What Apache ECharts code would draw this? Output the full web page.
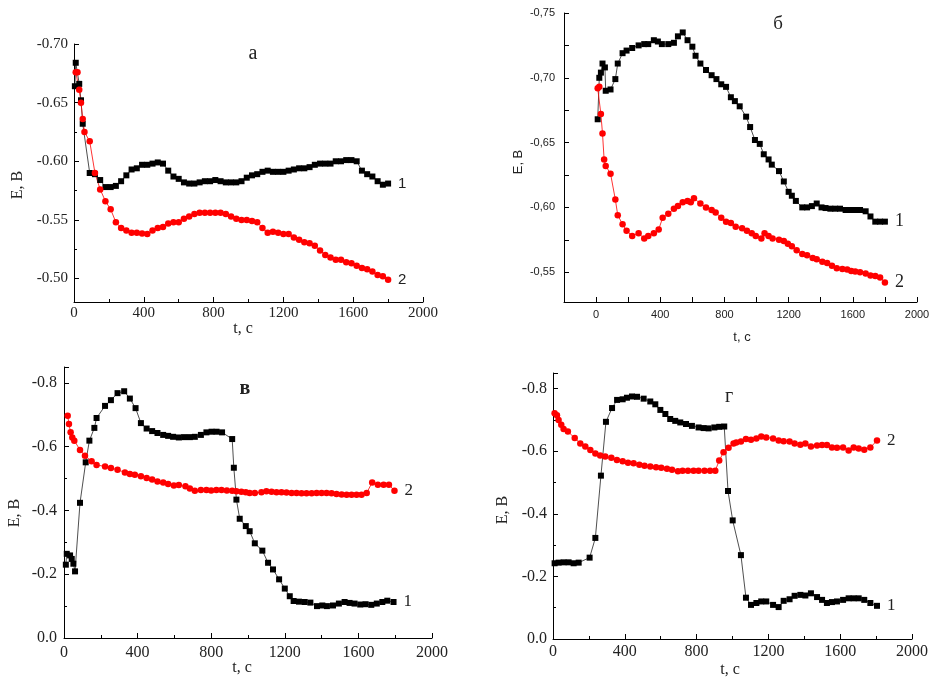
<!DOCTYPE html>
<html>
<head>
<meta charset="utf-8">
<script src="https://cdn.jsdelivr.net/npm/echarts@6/dist/echarts.min.js"></script>
<style>
html, body { margin: 0; background: #fff; }
#chart { width: 930px; height: 678px; }
</style>
</head>
<body>
<div id="chart"></div>
<script>
// panel а
const aT1 = [5, 10, 30, 40, 50, 90, 120, 150, 180, 210, 240, 270, 300, 330, 360, 390, 420, 450, 480, 510, 540, 570, 600, 630, 660, 690, 720, 750, 780, 810, 840, 870, 900, 930, 960, 990, 1020, 1050, 1080, 1110, 1140, 1170, 1200, 1230, 1260, 1290, 1320, 1350, 1380, 1410, 1440, 1470, 1500, 1530, 1560, 1590, 1620, 1650, 1680, 1710, 1740, 1770, 1800];
const aE1 = [-0.664, -0.684, -0.666, -0.652, -0.632, -0.590, -0.589, -0.584, -0.578, -0.578, -0.579, -0.583, -0.588, -0.593, -0.594, -0.597, -0.597, -0.598, -0.599, -0.598, -0.592, -0.587, -0.585, -0.582, -0.581, -0.581, -0.582, -0.583, -0.583, -0.584, -0.583, -0.582, -0.582, -0.582, -0.583, -0.586, -0.588, -0.589, -0.591, -0.592, -0.591, -0.591, -0.591, -0.592, -0.593, -0.594, -0.594, -0.595, -0.597, -0.598, -0.598, -0.598, -0.600, -0.600, -0.601, -0.601, -0.600, -0.592, -0.589, -0.587, -0.583, -0.580, -0.581];
const aT2 = [10, 20, 30, 40, 50, 60, 90, 120, 150, 180, 210, 240, 270, 300, 330, 360, 390, 420, 450, 480, 510, 540, 570, 600, 630, 660, 690, 720, 750, 780, 810, 840, 870, 900, 930, 960, 990, 1020, 1050, 1080, 1110, 1140, 1170, 1200, 1230, 1260, 1290, 1320, 1350, 1380, 1410, 1440, 1470, 1500, 1530, 1560, 1590, 1620, 1650, 1680, 1710, 1740, 1770, 1800];
const aE2 = [-0.676, -0.676, -0.661, -0.650, -0.636, -0.625, -0.617, -0.590, -0.576, -0.566, -0.559, -0.548, -0.543, -0.541, -0.539, -0.539, -0.5385, -0.538, -0.541, -0.543, -0.544, -0.547, -0.548, -0.548, -0.551, -0.553, -0.555, -0.556, -0.556, -0.556, -0.556, -0.556, -0.555, -0.553, -0.551, -0.550, -0.550, -0.549, -0.548, -0.543, -0.539, -0.540, -0.539, -0.538, -0.538, -0.535, -0.533, -0.531, -0.530, -0.528, -0.524, -0.520, -0.518, -0.516, -0.516, -0.514, -0.513, -0.511, -0.509, -0.508, -0.506, -0.503, -0.502, -0.499];

// panel б
const bT1 = [10, 20, 30, 40, 55, 60, 90, 120, 135, 165, 190, 225, 265, 300, 325, 360, 385, 410, 450, 485, 510, 540, 570, 600, 620, 650, 685, 720, 750, 780, 810, 840, 865, 895, 935, 960, 990, 1020, 1045, 1075, 1095, 1140, 1170, 1200, 1220, 1245, 1285, 1315, 1345, 1375, 1405, 1430, 1460, 1490, 1520, 1555, 1585, 1615, 1645, 1680, 1710, 1740, 1770, 1800];
const bE1 = [-0.668, -0.700, -0.704, -0.711, -0.708, -0.690, -0.691, -0.699, -0.711, -0.719, -0.721, -0.723, -0.725, -0.726, -0.726, -0.729, -0.728, -0.726, -0.726, -0.727, -0.732, -0.735, -0.729, -0.724, -0.717, -0.711, -0.706, -0.702, -0.699, -0.695, -0.693, -0.685, -0.682, -0.678, -0.670, -0.662, -0.652, -0.649, -0.641, -0.637, -0.633, -0.628, -0.620, -0.612, -0.609, -0.605, -0.600, -0.600, -0.601, -0.603, -0.600, -0.5995, -0.599, -0.599, -0.599, -0.598, -0.598, -0.598, -0.598, -0.597, -0.593, -0.589, -0.589, -0.589];
const bT2 = [10, 20, 30, 40, 50, 60, 90, 120, 135, 165, 190, 225, 265, 300, 325, 360, 390, 415, 450, 485, 510, 540, 570, 590, 610, 650, 685, 720, 745, 780, 810, 840, 870, 910, 940, 970, 995, 1030, 1050, 1075, 1100, 1140, 1170, 1195, 1220, 1250, 1285, 1315, 1350, 1375, 1410, 1440, 1470, 1500, 1535, 1565, 1590, 1615, 1645, 1680, 1710, 1740, 1770, 1800];
const bE2 = [-0.692, -0.693, -0.672, -0.657, -0.637, -0.632, -0.626, -0.606, -0.594, -0.587, -0.582, -0.578, -0.580, -0.576, -0.578, -0.580, -0.583, -0.592, -0.595, -0.599, -0.601, -0.604, -0.605, -0.604, -0.607, -0.603, -0.600, -0.598, -0.596, -0.592, -0.589, -0.588, -0.585, -0.584, -0.582, -0.580, -0.578, -0.576, -0.580, -0.578, -0.576, -0.575, -0.574, -0.572, -0.570, -0.567, -0.564, -0.563, -0.561, -0.560, -0.558, -0.557, -0.555, -0.553, -0.5525, -0.552, -0.551, -0.5505, -0.550, -0.549, -0.5475, -0.547, -0.546, -0.542];

// panel в
const cT1 = [10, 15, 33, 42, 51, 60, 87, 118, 138, 165, 177, 223, 255, 291, 327, 358, 389, 418, 449, 479, 508, 539, 566, 593, 624, 653, 684, 711, 744, 774, 802, 829, 859, 914, 923, 937, 955, 988, 1009, 1037, 1078, 1109, 1136, 1169, 1200, 1227, 1248, 1277, 1308, 1339, 1375, 1404, 1429, 1462, 1494, 1525, 1552, 1579, 1610, 1639, 1670, 1700, 1730, 1757, 1791];
const cE1 = [-0.230, -0.264, -0.259, -0.248, -0.233, -0.209, -0.424, -0.551, -0.619, -0.659, -0.690, -0.728, -0.746, -0.768, -0.774, -0.751, -0.721, -0.674, -0.657, -0.649, -0.643, -0.637, -0.634, -0.631, -0.629, -0.630, -0.630, -0.631, -0.637, -0.645, -0.647, -0.647, -0.645, -0.624, -0.534, -0.434, -0.374, -0.351, -0.335, -0.297, -0.274, -0.236, -0.215, -0.184, -0.155, -0.131, -0.116, -0.114, -0.113, -0.111, -0.100, -0.102, -0.100, -0.102, -0.108, -0.113, -0.110, -0.108, -0.105, -0.106, -0.104, -0.108, -0.113, -0.117, -0.113];
const cT2 = [20, 27, 36, 45, 56, 87, 114, 150, 177, 223, 255, 291, 331, 358, 385, 418, 449, 479, 508, 539, 566, 597, 624, 660, 684, 711, 744, 774, 800, 828, 856, 885, 914, 937, 964, 988, 1009, 1037, 1073, 1100, 1128, 1155, 1182, 1209, 1237, 1264, 1291, 1318, 1346, 1373, 1400, 1427, 1454, 1481, 1509, 1536, 1563, 1590, 1617, 1645, 1675, 1706, 1737, 1766, 1796];
const cE2 = [-0.697, -0.671, -0.645, -0.629, -0.619, -0.590, -0.572, -0.554, -0.543, -0.538, -0.533, -0.528, -0.519, -0.514, -0.512, -0.507, -0.502, -0.497, -0.491, -0.488, -0.483, -0.478, -0.480, -0.476, -0.469, -0.462, -0.464, -0.464, -0.463, -0.464, -0.464, -0.463, -0.462, -0.460, -0.459, -0.457, -0.455, -0.455, -0.457, -0.460, -0.459, -0.457, -0.457, -0.456, -0.455, -0.455, -0.454, -0.454, -0.454, -0.455, -0.455, -0.455, -0.454, -0.452, -0.450, -0.449, -0.449, -0.449, -0.449, -0.455, -0.488, -0.481, -0.481, -0.481, -0.462];

// panel г
const dT1 = [9, 31, 59, 87, 115, 143, 204, 236, 267, 295, 329, 357, 388, 412, 440, 468, 505, 542, 570, 598, 626, 653, 681, 709, 741, 774, 811, 839, 867, 899, 926, 954, 975, 1001, 1047, 1075, 1103, 1133, 1160, 1188, 1226, 1257, 1285, 1318, 1346, 1378, 1406, 1437, 1471, 1499, 1526, 1554, 1582, 1616, 1647, 1675, 1703, 1734, 1768, 1805];
const dE1 = [-0.242, -0.244, -0.245, -0.245, -0.242, -0.244, -0.260, -0.323, -0.522, -0.694, -0.738, -0.764, -0.766, -0.771, -0.775, -0.774, -0.768, -0.759, -0.750, -0.732, -0.719, -0.703, -0.697, -0.692, -0.687, -0.681, -0.676, -0.674, -0.673, -0.676, -0.678, -0.679, -0.473, -0.379, -0.268, -0.132, -0.109, -0.115, -0.120, -0.120, -0.109, -0.102, -0.122, -0.127, -0.138, -0.141, -0.139, -0.146, -0.134, -0.125, -0.115, -0.118, -0.120, -0.125, -0.130, -0.130, -0.130, -0.125, -0.115, -0.106];
const dT2 = [9, 22, 31, 46, 59, 83, 121, 152, 180, 208, 236, 263, 291, 325, 356, 388, 418, 449, 481, 510, 542, 574, 603, 635, 663, 696, 722, 752, 783, 811, 844, 875, 904, 926, 950, 978, 1006, 1021, 1047, 1075, 1103, 1133, 1160, 1188, 1226, 1257, 1285, 1318, 1346, 1378, 1406, 1437, 1471, 1499, 1526, 1554, 1582, 1616, 1647, 1675, 1703, 1734, 1768, 1805];
const dE2 = [-0.721, -0.715, -0.700, -0.685, -0.671, -0.663, -0.642, -0.625, -0.615, -0.604, -0.593, -0.586, -0.583, -0.579, -0.572, -0.568, -0.563, -0.562, -0.557, -0.554, -0.551, -0.549, -0.547, -0.544, -0.541, -0.536, -0.538, -0.538, -0.538, -0.538, -0.538, -0.538, -0.538, -0.570, -0.597, -0.611, -0.625, -0.628, -0.631, -0.639, -0.637, -0.641, -0.647, -0.644, -0.641, -0.634, -0.632, -0.631, -0.625, -0.621, -0.625, -0.615, -0.618, -0.620, -0.620, -0.612, -0.611, -0.612, -0.602, -0.612, -0.609, -0.605, -0.612, -0.634];

const serif = '"Liberation Serif", "Times New Roman", serif';
const sans = '"Liberation Sans", Arial, sans-serif';

function pts(t, e) {
    return t.map((v, i) => [v, e[i]]);
}

function axisBase(font, size, margin) {
    return {
        axisLine: { show: true, onZero: false, lineStyle: { color: '#000', width: 1 } },
        axisTick: { show: true, inside: true, length: 5, lineStyle: { color: '#000' } },
        minorTick: { show: true, splitNumber: 2, length: 3, lineStyle: { color: '#000' } },
        splitLine: { show: false },
        axisLabel: { fontFamily: font, fontSize: size, color: '#222', margin: margin }
    };
}

function blackSeries(idx, data, font, size) {
    return {
        type: 'line', xAxisIndex: idx, yAxisIndex: idx, data: data,
        symbol: 'rect', symbolSize: 6,
        itemStyle: { color: '#000' },
        lineStyle: { color: '#222', width: 0.8 },
        endLabel: { show: true, formatter: '1', fontFamily: font, fontSize: size, color: '#222', distance: 10 }
    };
}

function redSeries(idx, data, font, size) {
    return {
        type: 'line', xAxisIndex: idx, yAxisIndex: idx, data: data,
        symbol: 'circle', symbolSize: 6.5,
        itemStyle: { color: '#f00' },
        lineStyle: { color: '#f00', width: 0.8 },
        endLabel: { show: true, formatter: '2', fontFamily: font, fontSize: size, color: '#222', distance: 10 }
    };
}

function text(str, x, y, font, rotate, weight) {
    return {
        type: 'text', x: x, y: y, rotation: rotate ? Math.PI / 2 : 0,
        style: { text: str, font: (weight || '') + ' ' + font, fill: '#222', align: 'center', verticalAlign: 'middle' }
    };
}

const chart = echarts.init(document.getElementById('chart'));

const plain = v => String(v);

const x0 = Object.assign(axisBase(serif, 15, 4), { type: 'value', gridIndex: 0, min: 0, max: 2000, interval: 400 });
x0.axisLabel.formatter = plain;
const y0 = Object.assign(axisBase(serif, 15, 6), { type: 'value', gridIndex: 0, min: -0.70, max: -0.48, interval: 0.05, inverse: true });
y0.axisLabel.formatter = v => v.toFixed(2);
y0.axisLabel.showMaxLabel = false;

const x1 = Object.assign(axisBase(sans, 11, 7), { type: 'value', gridIndex: 1, min: -200, max: 2000, interval: 200 });
x1.minorTick.show = false;
x1.axisLabel.formatter = v => (v >= 0 && v % 400 === 0) ? String(v) : '';
const y1 = Object.assign(axisBase(sans, 11, 9), { type: 'value', gridIndex: 1, min: -0.75, max: -0.527, interval: 0.05, inverse: true });
y1.minorTick.length = 5;
y1.axisLabel.formatter = v => v.toFixed(2).replace('.', ',');
y1.axisLabel.showMaxLabel = false;

const x2 = Object.assign(axisBase(serif, 16, 7), { type: 'value', gridIndex: 2, min: 0, max: 2000, interval: 400 });
x2.axisLabel.formatter = plain;
const y2 = Object.assign(axisBase(serif, 16, 7), { type: 'value', gridIndex: 2, min: -0.85, max: 0, splitNumber: 4, inverse: true });
y2.axisLabel.formatter = v => v.toFixed(1);
y2.axisLabel.showMinLabel = false;

const x3 = Object.assign(axisBase(serif, 16, 5), { type: 'value', gridIndex: 3, min: 0, max: 2000, interval: 400 });
x3.axisLabel.formatter = plain;
const y3 = Object.assign(axisBase(serif, 16, 6), { type: 'value', gridIndex: 3, min: -0.85, max: 0, splitNumber: 4, inverse: true });
y3.axisLabel.formatter = v => v.toFixed(1);
y3.axisLabel.showMinLabel = false;

const option = {
    animation: false,
    backgroundColor: '#fff',
    grid: [
        { left: 74, top: 44, width: 349, height: 258, outerBoundsMode: 'none' },
        { left: 564, top: 13, width: 353, height: 289, outerBoundsMode: 'none' },
        { left: 64, top: 367, width: 368, height: 271, outerBoundsMode: 'none' },
        { left: 553, top: 373, width: 359, height: 266, outerBoundsMode: 'none' }
    ],
    xAxis: [x0, x1, x2, x3],
    yAxis: [y0, y1, y2, y3],
    series: [
        blackSeries(0, pts(aT1, aE1), sans, 15),
        redSeries(0, pts(aT2, aE2), sans, 15),
        blackSeries(1, pts(bT1, bE1), serif, 18),
        redSeries(1, pts(bT2, bE2), serif, 18),
        blackSeries(2, pts(cT1, cE1), serif, 17),
        redSeries(2, pts(cT2, cE2), serif, 17),
        blackSeries(3, pts(dT1, dE1), serif, 17),
        redSeries(3, pts(dT2, dE2), serif, 17)
    ],
    graphic: [
        text('а', 253, 54, '20px ' + serif),
        text('E, B', 18, 185, '16px ' + serif, true),
        text('t, c', 243, 329, '16px ' + serif),
        text('б', 778, 24, '19px ' + serif),
        text('E, B', 518, 162, '13px ' + sans, true),
        text('t, c', 742, 337, '13px ' + sans),
        text('в', 245, 389, '20px ' + serif, false, 'bold'),
        text('E, B', 15, 513, '16px ' + serif, true),
        text('t, c', 242, 668, '16px ' + serif),
        text('г', 729, 397, '20px ' + serif),
        text('E, B', 503, 510, '16px ' + serif, true),
        text('t, c', 730, 670, '16px ' + serif)
    ]
};

chart.setOption(option);
</script>
</body>
</html>
